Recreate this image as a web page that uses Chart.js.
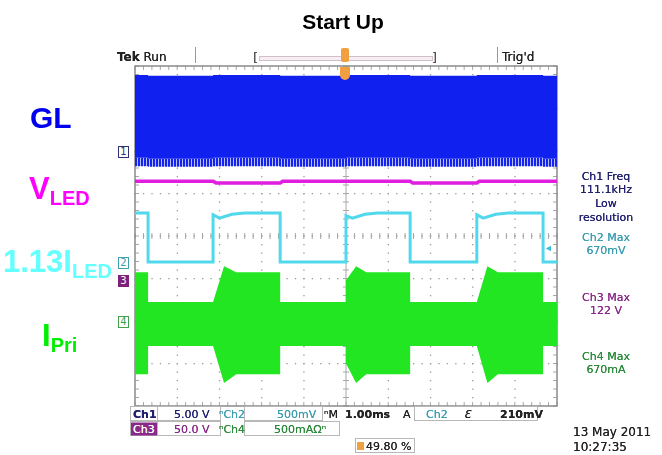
<!DOCTYPE html>
<html>
<head>
<meta charset="utf-8">
<script src="https://cdn.jsdelivr.net/npm/chart.js@4.4.1/dist/chart.umd.min.js"></script>
<style>
  html, body { margin: 0; padding: 0; background: #fff; }
  #wrap { position: relative; width: 662px; height: 455px; overflow: hidden; }
  #chartBox { position: absolute; left: 0; top: 0; width: 662px; height: 455px; }
  .t { position: absolute; white-space: nowrap; font-family: "DejaVu Sans", sans-serif; font-size: 11px; line-height: 13px; transform: translateY(-50%); text-shadow: 0 0 0.4px currentColor; }
  .c { transform: translate(-50%, -50%); text-align: center; }
  .lab { position: absolute; white-space: nowrap; font-family: "Liberation Sans", Arial, sans-serif; font-weight: bold; font-size: 31px; line-height: 32px; }
  .lab sub { font-size: 20px; vertical-align: -6px; }
  .box { position: absolute; border: 1px solid #b8b8b8; box-sizing: border-box; }
  .mk { position: absolute; width: 11px; height: 12px; box-sizing: border-box; font-family: "DejaVu Sans", sans-serif; font-size: 10px; line-height: 10px; text-align: center; transform: translateY(-50%); }
</style>
</head>
<body>
<div id="wrap">
  <div id="chartBox"><canvas id="scope"></canvas></div>
</div>
<script>
// time axis: 10 divisions of 1.00 ms, vertical: 8 divisions
const timeDivs = [0, 10];
const voltDivs = [-4, 4];

// Ch1 GL (gate drive) envelope, divisions
const glT   = [0, 0.31, 0.31, 1.85, 1.85, 3.44, 3.44, 5.00, 5.00, 6.52, 6.52, 8.10, 8.10, 9.67, 9.67, 10];
const glTop = [3.79, 3.79, 3.77, 3.77, 3.79, 3.79, 3.77, 3.77, 3.79, 3.79, 3.77, 3.77, 3.79, 3.79, 3.77, 3.77];
const glMid = [1.84, 1.84, 1.82, 1.82, 1.84, 1.84, 1.82, 1.82, 1.84, 1.84, 1.82, 1.82, 1.84, 1.84, 1.82, 1.82];
const glBot = [1.64, 1.64, 1.63, 1.63, 1.64, 1.64, 1.63, 1.63, 1.64, 1.64, 1.63, 1.63, 1.64, 1.64, 1.63, 1.63];

// Ch3 VLED
const vledT = [0, 1.85, 1.92, 3.44, 3.50, 6.52, 6.58, 8.10, 8.16, 10];
const vledV = [1.29, 1.29, 1.25, 1.25, 1.29, 1.29, 1.25, 1.25, 1.29, 1.29];

// Ch2 1.13 ILED
const iledT = [0, 0.31, 0.31, 1.85, 1.85, 2.00, 2.30, 2.60, 3.44, 3.44, 5.00, 5.00, 5.15, 5.45, 5.75, 6.52, 6.52, 8.10, 8.10, 8.25, 8.55, 8.85, 9.67, 9.67, 10];
const iledV = [0.54, 0.54, -0.61, -0.61, 0.50, 0.42, 0.51, 0.54, 0.54, -0.61, -0.61, 0.48, 0.42, 0.51, 0.54, 0.54, -0.61, -0.61, 0.50, 0.42, 0.51, 0.54, 0.54, -0.61, -0.61];

// Ch4 IPri envelope
const ipriT   = [0, 0.31, 0.31, 1.85, 2.11, 2.40, 3.44, 3.44, 5.00, 5.00, 5.24, 5.48, 6.52, 6.52, 8.10, 8.35, 8.60, 9.67, 9.67, 10];
const ipriTop = [-0.85, -0.85, -1.55, -1.55, -0.71, -0.85, -0.85, -1.55, -1.55, -1.04, -0.71, -0.85, -0.85, -1.55, -1.55, -0.71, -0.85, -0.85, -1.55, -1.55];
const ipriBot = [-3.25, -3.25, -2.59, -2.59, -3.46, -3.25, -3.25, -2.59, -2.59, -3.00, -3.46, -3.25, -3.25, -2.59, -2.59, -3.46, -3.25, -3.25, -2.59, -2.59];

function pts(xs, ys) { return xs.map((x, i) => ({x: x, y: ys[i]})); }

// striped fill for the ragged bottom of the GL trace
const pc = document.createElement('canvas');
pc.width = 3; pc.height = 4;
const pctx = pc.getContext('2d');
pctx.fillStyle = '#1424ee'; pctx.fillRect(0, 0, 2, 4);
pctx.fillStyle = '#b8bef8'; pctx.fillRect(2, 0, 1, 4);
const stripe = pctx.createPattern(pc, 'repeat');

const tekGrid = {
  id: 'tekGrid',
  beforeDatasetsDraw(chart) {
    const {ctx, chartArea: a, scales: {x, y}} = chart;
    ctx.save();
    ctx.fillStyle = '#9a9a9a';
    for (let i = 1; i < 10; i++) {
      if (i === 5) continue;
      const px = x.getPixelForValue(i);
      for (let v = -4; v <= 4.001; v += 0.2) ctx.fillRect(px - 0.5, y.getPixelForValue(v) - 0.5, 1.3, 1.3);
    }
    for (let j = -3; j <= 3; j++) {
      if (j === 0) continue;
      const py = y.getPixelForValue(j);
      for (let t = 0; t <= 10.001; t += 0.2) ctx.fillRect(x.getPixelForValue(t) - 0.5, py - 0.5, 1.3, 1.3);
    }
    ctx.strokeStyle = '#a8a8a8';
    ctx.lineWidth = 1;
    const cx = x.getPixelForValue(5), cy = y.getPixelForValue(0);
    ctx.beginPath();
    ctx.moveTo(cx, a.top); ctx.lineTo(cx, a.bottom);
    for (let t = 0; t <= 10.001; t += 0.2) {
      const px = x.getPixelForValue(t);
      ctx.moveTo(px, cy - 3); ctx.lineTo(px, cy + 3);
      ctx.moveTo(px, a.top); ctx.lineTo(px, a.top + 4);
      ctx.moveTo(px, a.bottom); ctx.lineTo(px, a.bottom - 4);
    }
    for (let v = -4; v <= 4.001; v += 0.2) {
      const py = y.getPixelForValue(v);
      ctx.moveTo(cx - 3, py); ctx.lineTo(cx + 3, py);
      ctx.moveTo(a.left, py); ctx.lineTo(a.left + 4, py);
      ctx.moveTo(a.right, py); ctx.lineTo(a.right - 4, py);
    }
    ctx.stroke();
    for (let t = 0; t <= 10.001; t += 0.2) ctx.fillRect(x.getPixelForValue(t) - 0.5, cy - 0.5, 1.3, 1.3);
    ctx.strokeStyle = '#8a8a8a';
    ctx.lineWidth = 1.5;
    ctx.strokeRect(a.left, a.top, a.right - a.left, a.bottom - a.top);
    ctx.restore();
  }
};

const band = (data, color, fill) => ({data: data, borderWidth: 0, borderColor: color, backgroundColor: color, pointRadius: 0, fill: fill, tension: 0});

new Chart(document.getElementById('scope').getContext('2d'), {
  type: 'line',
  data: {
    datasets: [
      band(pts(glT, glTop), '#1020ee', '+1'),
      band(pts(glT, glMid), stripe, '+1'),
      band(pts(glT, glBot), 'rgba(0,0,0,0)', false),
      {data: pts(vledT, vledV), borderColor: '#e01ee0', borderWidth: 3.5, pointRadius: 0, fill: false, tension: 0},
      {data: pts(iledT, iledV), borderColor: '#50d8ec', borderWidth: 3, pointRadius: 0, fill: false, tension: 0},
      band(pts(ipriT, ipriTop), '#22e622', '+1'),
      band(pts(ipriT, ipriBot), 'rgba(0,0,0,0)', false)
    ]
  },
  options: {
    responsive: true,
    maintainAspectRatio: false,
    animation: false,
    layout: {padding: {left: 135, top: 66, right: 105, bottom: 49}},
    plugins: {legend: {display: false}, tooltip: {enabled: false}},
    scales: {
      x: {type: 'linear', min: timeDivs[0], max: timeDivs[1], display: false},
      y: {type: 'linear', min: voltDivs[0], max: voltDivs[1], display: false}
    }
  },
  plugins: [tekGrid]
});

// overlay texts
const wrap = document.getElementById('wrap');
function txt(s, x, y, css, cls) {
  const d = document.createElement('div');
  d.className = cls || 't';
  d.innerHTML = s;
  d.style.left = x + 'px'; d.style.top = y + 'px';
  if (css) d.style.cssText += css;
  wrap.appendChild(d);
  return d;
}
function box(x, y, w, h, css) {
  const d = document.createElement('div');
  d.className = 'box';
  d.style.left = x + 'px'; d.style.top = y + 'px'; d.style.width = w + 'px'; d.style.height = h + 'px';
  if (css) d.style.cssText += css;
  wrap.appendChild(d);
}

// title
txt('Start Up', 343, 22, 'font-family:"Liberation Sans",Arial,sans-serif;font-weight:bold;font-size:21px;line-height:24px;color:#000;text-shadow:none;', 't c');

// left channel labels
txt('GL', 30, 102, 'color:#0000f0;font-size:30px;', 'lab');
txt('V<sub>LED</sub>', 29, 173, 'color:#ff00ff;', 'lab');
txt('1.13I<sub>LED</sub>', 3, 246, 'color:#66ffff;', 'lab');
txt('I<sub>Pri</sub>', 42, 320, 'color:#00ee00;', 'lab');

// top status bar
txt('<b>Tek</b> Run', 117, 57, 'font-size:12px;color:#222;');
box(195, 47, 1, 16, 'border:none;background:#999;');
box(497, 47, 1, 16, 'border:none;background:#999;');
txt('[', 253, 57, 'font-size:13px;color:#555;');
txt(']', 432, 57, 'font-size:13px;color:#555;');
box(259, 56, 174, 5, 'border:1px solid #d0c0c8;background:#f6eef2;');
txt("Trig'd", 502, 57, 'font-size:12px;color:#222;');
box(341, 48, 8, 14, 'border:none;background:#f0a040;border-radius:2px;');
box(340, 67, 10, 13, 'border:none;background:#f0a040;border-radius:0 0 5px 5px;');

// channel ground markers
txt('1', 118, 152, 'border:1px solid #303070;color:#303070;background:#fff;', 'mk');
txt('2', 118, 263, 'border:1px solid #40a0b0;color:#40a0b0;background:#fff;', 'mk');
txt('3', 118, 281, 'border:1px solid #80207a;color:#fff;background:#80207a;', 'mk');
txt('4', 118, 322, 'border:1px solid #40a050;color:#40a050;background:#fff;', 'mk');
txt('&#9666;', 546, 247, 'color:#40c0d8;font-size:10px;');

// right measurement readouts
const navy = '#202070', teal = '#3a9eb0', purple = '#8a2a88', green = '#2a8a3a';
txt('Ch1 Freq', 606, 176, 'color:' + navy + ';', 't c');
txt('111.1kHz', 606, 189, 'color:' + navy + ';', 't c');
txt('Low', 606, 203, 'color:' + navy + ';', 't c');
txt('resolution', 606, 217, 'color:' + navy + ';', 't c');
txt('Ch2 Max', 606, 237, 'color:' + teal + ';', 't c');
txt('670mV', 606, 250, 'color:' + teal + ';', 't c');
txt('Ch3 Max', 606, 297, 'color:' + purple + ';', 't c');
txt('122 V', 606, 310, 'color:' + purple + ';', 't c');
txt('Ch4 Max', 606, 356, 'color:' + green + ';', 't c');
txt('670mA', 606, 369, 'color:' + green + ';', 't c');

// bottom readout rows
box(130, 406, 28, 15); box(157, 406, 64, 15);
box(244, 406, 79, 15); box(414, 406, 124, 15);
txt('Ch1', 133, 414, 'color:' + navy + ';font-weight:bold;');
txt('5.00 V', 174, 414, 'color:' + navy + ';');
txt('&#8319;Ch2', 219, 414, 'color:' + teal + ';');
txt('500mV', 277, 414, 'color:' + teal + ';');
txt('&#8319;M', 324, 414, 'color:#222;');
txt('1.00ms', 345, 414, 'color:#222;font-weight:bold;');
txt('A', 403, 414, 'color:#222;');
txt('Ch2', 426, 414, 'color:' + teal + ';');
txt('&#400;', 464, 414, 'color:#222;font-style:italic;');
txt('210mV', 500, 414, 'color:#222;font-weight:bold;');
box(130, 421, 28, 15); box(157, 421, 64, 15); box(244, 421, 96, 15);
txt('Ch3', 131, 429, 'color:#fff;background:' + purple + ';padding:0 2px;');
txt('50.0 V', 174, 429, 'color:' + purple + ';');
txt('&#8319;Ch4', 219, 429, 'color:' + green + ';');
txt('500mA&Omega;&#8319;', 274, 429, 'color:' + green + ';');
box(355, 438, 60, 15);
box(357, 442, 7, 8, 'border:none;background:#f0a040;');
txt('49.80 %', 366, 446, 'color:#222;');
txt('13 May 2011', 573, 432, 'color:#222;font-size:12px;');
txt('10:27:35', 573, 447, 'color:#222;font-size:12px;');
</script>
</body>
</html>
